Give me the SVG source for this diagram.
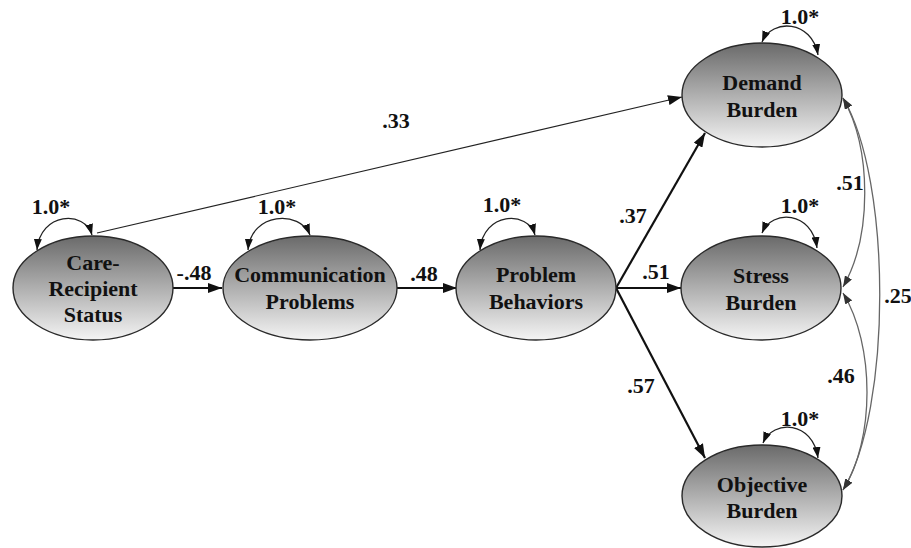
<svg xmlns="http://www.w3.org/2000/svg" width="911" height="548" viewBox="0 0 911 548">
<style>
.node ellipse{fill:url(#g);stroke:#2a2a2a;stroke-width:1.4}
text{font-family:'Liberation Serif','DejaVu Serif',serif;font-weight:bold;font-size:22px;fill:#111;text-anchor:middle}
.path{fill:none;stroke:#111;stroke-width:2.2;marker-end:url(#ah)}
.thin{fill:none;stroke:#222;stroke-width:1.2;marker-end:url(#ah)}
.loop{fill:none;stroke:#222;stroke-width:1.3;marker-start:url(#as);marker-end:url(#as)}
.cov{fill:none;stroke:#666;stroke-width:1.3;marker-start:url(#ac);marker-end:url(#ac)}
</style>
<defs>
<linearGradient id="g" x1="0" y1="0" x2="0" y2="1">
<stop offset="0" stop-color="#6a6a6a"/>
<stop offset="1" stop-color="#f4f4f4"/>
</linearGradient>
<marker id="ah" viewBox="0 0 14 10" refX="14" refY="5" markerWidth="14" markerHeight="10" orient="auto" markerUnits="userSpaceOnUse"><path d="M0,0 L14,5 L0,10 z" fill="#111"/></marker>
<marker id="as" viewBox="0 0 11 8" refX="11" refY="4" markerWidth="11" markerHeight="8" orient="auto-start-reverse" markerUnits="userSpaceOnUse"><path d="M0,0 L11,4 L0,8 z" fill="#111"/></marker>
<marker id="ac" viewBox="0 0 11 8" refX="11" refY="4" markerWidth="11" markerHeight="8" orient="auto-start-reverse" markerUnits="userSpaceOnUse"><path d="M0,0 L11,4 L0,8 z" fill="#333"/></marker>
</defs>
<rect width="911" height="548" fill="#fff"/>
<g id="connectors" font-family="Liberation Serif, serif">
<path class="thin" d="M97,233 L682,97"/>
<path class="path" d="M173,288 L222,288"/>
<path class="path" d="M397,288 L457,288"/>
<path class="path" d="M616,288 L705,133"/>
<path class="path" d="M616,288 L681,288"/>
<path class="path" d="M616,288 L705,458"/>
<path class="loop" d="M37,250 C40,212 85,210 92,235"/>
<path class="loop" d="M248,250 C251,212 300,210 310,235"/>
<path class="loop" d="M480,250 C483,212 528,210 535,235"/>
<path class="loop" d="M762,42 C772,18 812,20 818,55"/>
<path class="loop" d="M762,233 C772,209 812,211 817,248"/>
<path class="loop" d="M763,443 C773,419 813,421 818,458"/>
<path class="cov" d="M843,98 C872,150 872,236 843,287"/>
<path class="cov" d="M843,293 C875,345 875,440 843,490"/>
<path class="cov" d="M843,98 C892,180 892,410 843,490"/>
<text x="396" y="128">.33</text>
<text x="194" y="280">-.48</text>
<text x="424" y="281">.48</text>
<text x="633" y="223">.37</text>
<text x="656" y="279">.51</text>
<text x="641" y="393">.57</text>
<text x="850" y="190">.51</text>
<text x="841" y="383">.46</text>
<text x="898" y="303">.25</text>
<text x="51" y="214">1.0*</text>
<text x="277" y="214">1.0*</text>
<text x="502" y="212">1.0*</text>
<text x="800" y="24">1.0*</text>
<text x="800" y="213">1.0*</text>
<text x="800" y="426">1.0*</text>
</g>
<g id="care" class="node">
<ellipse cx="93" cy="288" rx="80" ry="52"/>
<text x="93" y="270">Care-</text>
<text x="93" y="296">Recipient</text>
<text x="93" y="322">Status</text>
</g>
<g id="communication" class="node">
<ellipse cx="310" cy="288" rx="87" ry="52"/>
<text x="310" y="282">Communication</text>
<text x="310" y="309">Problems</text>
</g>
<g id="problem" class="node">
<ellipse cx="536" cy="288" rx="80" ry="52"/>
<text x="536" y="282">Problem</text>
<text x="536" y="309">Behaviors</text>
</g>
<g id="demand" class="node">
<ellipse cx="762" cy="95" rx="80" ry="52"/>
<text x="762" y="90">Demand</text>
<text x="762" y="117">Burden</text>
</g>
<g id="stress" class="node">
<ellipse cx="761" cy="288" rx="80" ry="52"/>
<text x="761" y="283">Stress</text>
<text x="761" y="310">Burden</text>
</g>
<g id="objective" class="node">
<ellipse cx="762" cy="496" rx="80" ry="51"/>
<text x="762" y="492">Objective</text>
<text x="762" y="518">Burden</text>
</g>
</svg>
